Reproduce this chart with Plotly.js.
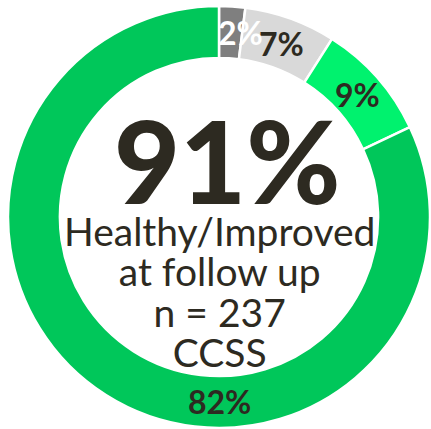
<!DOCTYPE html>
<html>
<head>
<meta charset="utf-8">
<script src="https://cdn.plot.ly/plotly-3.0.1.min.js"></script>
<style>html,body{margin:0;padding:0;background:#fff;}#chart{width:431px;height:429px;}</style>
</head>
<body>
<div id="chart"></div>
<script>
// Data
const categories = ['Worse', 'Stable', 'Improved', 'Healthy'];
const values = [2, 7, 9, 82];
const sliceLabels = ['2%', '7%', '9%', '82%'];
const sliceColors = ['#7f7f7f', '#d9d9d9', '#00f26e', '#00c75a'];
const labelColors = ['#ffffff', '#2d2a21', '#2d2a21', '#2d2a21'];
const centerBig = '91%';
const centerLines = ['Healthy/Improved', 'at follow up', 'n = 237', 'CCSS'];

const total = values.reduce((a, b) => a + b, 0);
const ringR = 0.438; // label radius in paper units
const annotations = [];
let cum = 0;
values.forEach((v, i) => {
  let midDeg = (cum + v / 2) / total * 360;
  cum += v;
  if (i === values.length - 1) midDeg = 180; // large slice label sits at bottom
  const th = midDeg * Math.PI / 180;
  annotations.push({
    x: 0.5 + ringR * Math.sin(th),
    y: 0.5 + ringR * Math.cos(th),
    xref: 'paper', yref: 'paper',
    text: '<b>' + sliceLabels[i] + '</b>',
    showarrow: false,
    xanchor: 'center', yanchor: 'middle',
    xshift: i === 0 ? 10 : 0,
    font: {family: 'Lato, sans-serif', size: 32, color: labelColors[i]}
  });
});

annotations.push({
  x: 0.5, y: 0.5 + 58 / 422, xref: 'paper', yref: 'paper',
  text: centerBig, showarrow: false,
  xanchor: 'center', yanchor: 'middle', xshift: 8,
  font: {family: 'Lato, sans-serif', size: 114, weight: 900, color: '#2d2a21'}
});
annotations.push({
  x: 0.5, y: 0.5 - 74 / 422, xref: 'paper', yref: 'paper',
  text: centerLines.map(t => '<span style="font-size:39px">' + t + '</span>').join('<br>'),
  showarrow: false,
  xanchor: 'center', yanchor: 'middle', align: 'center',
  font: {family: 'Lato, sans-serif', size: 31, color: '#2d2a21'}
});

const trace = {
  type: 'pie',
  labels: categories,
  values: values,
  sort: false,
  direction: 'clockwise',
  rotation: 0,
  hole: 0.754,
  textinfo: 'none',
  hoverinfo: 'none',
  marker: {colors: sliceColors, line: {color: '#ffffff', width: 2.5}},
  domain: {x: [0, 1], y: [0, 1]},
  showlegend: false
};

const layout = {
  width: 431, height: 429,
  margin: {l: 8, r: 1, t: 6, b: 1},
  paper_bgcolor: '#ffffff',
  showlegend: false,
  annotations: annotations
};

Plotly.newPlot('chart', [trace], layout, {staticPlot: true, displayModeBar: false});
</script>
</body>
</html>
